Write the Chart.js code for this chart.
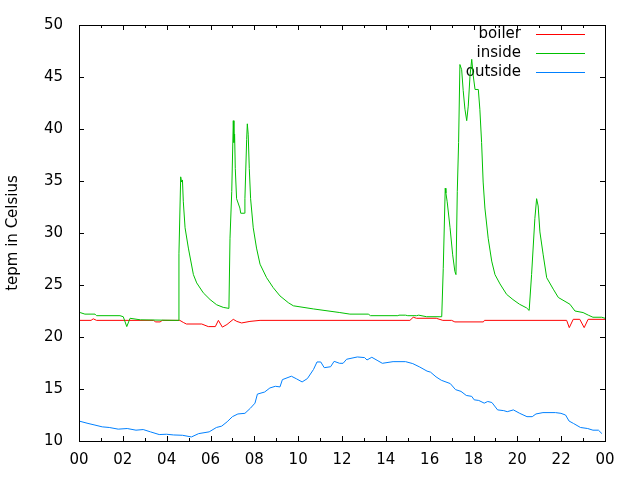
<!DOCTYPE html>
<html lang="en">
<head>
    <meta charset="utf-8">
    <title>Temperatures</title>
    <script src="https://cdn.jsdelivr.net/npm/chart.js"></script>
    <style>
        body { margin: 0; background: #fff; }
    </style>
</head>
<body>
    <canvas id="tempChart" width="640" height="480"></canvas>
    <script>
        // hours of the day (0..24) and temperatures
        const boilerHours = [0, 0.55, 0.65, 0.8, 3.4, 3.5, 3.7, 3.8, 4.6, 4.76, 4.9, 5.6, 5.9, 6.22, 6.36, 6.54, 6.75, 7.04, 7.2, 7.42, 7.8, 8.26,
            15.1, 15.25, 15.4, 16.3, 16.6, 17.0, 17.15, 18.45, 18.5, 22.25, 22.37, 22.55, 22.85, 23.05, 23.23, 24];
        const boilerTemps = [21.6, 21.6, 21.75, 21.6, 21.6, 21.45, 21.45, 21.6, 21.6, 21.4, 21.25, 21.25, 21.0, 21.0, 21.6, 20.95, 21.2, 21.7, 21.5, 21.35, 21.5, 21.6,
            21.6, 21.9, 21.8, 21.8, 21.6, 21.6, 21.45, 21.45, 21.6, 21.6, 20.9, 21.7, 21.7, 20.9, 21.7, 21.7];

        const insideHours = [0, 0.05, 0.27, 0.73, 0.8, 1.87, 2.02, 2.18, 2.33, 2.8, 4.53,
            4.56, 4.64, 4.68, 4.72, 4.76, 4.84, 4.99, 5.22, 5.37, 5.67, 5.98, 6.28, 6.58, 6.84,
            6.89, 6.97, 7.04, 7.07, 7.1, 7.13, 7.19, 7.34, 7.38, 7.54, 7.57, 7.65, 7.68, 7.72, 7.77, 7.83, 7.95,
            8.1, 8.26, 8.56, 8.86, 9.17, 9.55, 9.78, 10.69, 11.9, 12.36, 13.2, 13.3, 14.55, 14.6, 14.9, 15.0, 15.4, 15.5, 15.86, 16.47,
            16.55, 16.62, 16.71, 16.74, 16.8, 16.93, 17.05, 17.15, 17.2, 17.26, 17.32, 17.38, 17.46, 17.53, 17.61, 17.69, 17.76,
            17.84, 17.92, 17.99, 18.07, 18.22, 18.29, 18.37, 18.44, 18.52, 18.67, 18.83, 18.98, 19.21, 19.51, 19.8, 20.1, 20.42, 20.54,
            20.65, 20.8, 20.88, 20.95, 21.03, 21.18, 21.34, 21.64, 21.87, 22.4, 22.63, 23.0, 23.24, 23.45, 23.85, 24];
        const insideTemps = [22.3, 22.35, 22.2, 22.2, 22.05, 22.05, 21.95, 21.0, 21.8, 21.65, 21.6,
            28.0, 35.4, 34.9, 35.1, 33.0, 30.5, 28.55, 26.0, 25.2, 24.25, 23.6, 23.1, 22.85, 22.75,
            29.5, 34.0, 40.8, 38.7, 39.5, 36.2, 33.3, 32.4, 31.9, 31.9, 33.3, 39.0, 40.5, 39.5, 36.2, 33.3, 30.5,
            28.55, 27.0, 25.7, 24.75, 23.95, 23.3, 23.0, 22.7, 22.35, 22.2, 22.2, 22.05, 22.05, 22.1, 22.1, 22.05, 22.05, 22.1, 21.95, 21.95,
            21.95, 26.6, 34.3, 33.85, 33.0, 30.5, 27.9, 26.3, 26.0, 34.0, 38.7, 46.2, 45.7, 43.7, 41.9, 40.8, 42.2,
            45.1, 46.7, 45.1, 43.8, 43.8, 41.9, 38.7, 34.9, 32.4, 29.5, 27.3, 26.0, 25.1, 24.1, 23.6, 23.15, 22.8, 22.55,
            26.0, 31.4, 33.3, 32.6, 30.1, 27.9, 25.7, 24.6, 23.8, 23.15, 22.5, 22.35, 22.1, 21.9, 21.9, 21.8];

        const outsideHours = [0, 0.41, 0.73, 1.06, 1.38, 1.79, 2.2, 2.6, 2.93, 3.26, 3.66, 3.99, 4.32, 4.72, 5.13, 5.46, 5.94,
            6.27, 6.51, 6.76, 7.0, 7.25, 7.57, 7.82, 8.03, 8.14, 8.47, 8.71, 8.96, 9.17, 9.28, 9.69, 9.93, 10.18, 10.42,
            10.7, 10.86, 11.03, 11.19, 11.48, 11.64, 11.89, 12.05, 12.21, 12.7, 13.03, 13.14, 13.36, 13.6, 13.84, 14.33,
            14.9, 15.23, 15.55, 15.88, 16.04, 16.29, 16.53, 16.94, 17.18, 17.43, 17.67, 17.92, 18.03, 18.24, 18.49, 18.65,
            18.84, 19.1, 19.38, 19.54, 19.82, 20.11, 20.44, 20.68, 20.85, 21.17, 21.74, 21.99, 22.2, 22.36, 22.56, 22.88,
            23.21, 23.45, 23.7, 23.86];
        const outsideTemps = [11.92, 11.69, 11.53, 11.36, 11.3, 11.14, 11.2, 11.04, 11.1, 10.88, 10.62, 10.65, 10.58, 10.55, 10.39, 10.71, 10.88,
            11.3, 11.43, 11.85, 12.34, 12.6, 12.66, 13.15, 13.64, 14.51, 14.71, 15.1, 15.26, 15.2, 15.9, 16.23, 15.97, 15.68, 16.0,
            16.88, 17.6, 17.6, 17.05, 17.14, 17.66, 17.47, 17.47, 17.86, 18.08, 18.02, 17.79, 18.05, 17.76, 17.47, 17.63,
            17.63, 17.44, 17.11, 16.72, 16.62, 16.17, 15.84, 15.52, 14.94, 14.77, 14.38, 14.29, 13.96, 13.9, 13.64, 13.8,
            13.7, 12.99, 12.92, 12.82, 12.99, 12.66, 12.34, 12.34, 12.6, 12.73, 12.73, 12.66, 12.5, 11.92, 11.69, 11.3,
            11.2, 11.04, 11.04, 10.71];

        const hourTicks = [0, 2, 4, 6, 8, 10, 12, 14, 16, 18, 20, 22, 24];
        const xTickLabels = ['00', '02', '04', '06', '08', '10', '12', '14', '16', '18', '20', '22', '00'];

        const font = { family: 'DejaVu Sans', size: 15 };

        function toPoints(xs, ys) {
            return xs.map((x, i) => ({ x: x, y: ys[i] }));
        }

        // gnuplot style box with inward ticks on all four sides
        const framePlugin = {
            id: 'frame',
            afterDraw(chart) {
                const ctx = chart.ctx;
                const a = chart.chartArea;
                const xs = chart.scales.x;
                const ys = chart.scales.y;
                ctx.save();
                ctx.strokeStyle = '#000';
                ctx.lineWidth = 1;
                ctx.beginPath();
                ys.ticks.forEach(t => {
                    const py = Math.round(ys.getPixelForValue(t.value)) + 0.5;
                    ctx.moveTo(a.left, py); ctx.lineTo(a.left + 5, py);
                    ctx.moveTo(a.right, py); ctx.lineTo(a.right - 5, py);
                });
                for (let h = 0; h <= 24; h++) {
                    const px = Math.round(xs.getPixelForValue(h)) + 0.5;
                    const len = h % 2 === 0 ? 5 : 3;
                    ctx.moveTo(px, a.bottom); ctx.lineTo(px, a.bottom - len);
                    ctx.moveTo(px, a.top); ctx.lineTo(px, a.top + len);
                }
                ctx.stroke();
                ctx.strokeRect(Math.round(a.left) + 0.5, Math.round(a.top) + 0.5,
                    Math.round(a.right - a.left), Math.round(a.bottom - a.top));
                ctx.restore();
            }
        };

        // key in the top right corner: text right aligned, sample line after it
        const keyPlugin = {
            id: 'key',
            beforeDatasetsDraw(chart) {
                const ctx = chart.ctx;
                ctx.save();
                ctx.font = font.size + 'px ' + font.family;
                ctx.fillStyle = '#000';
                ctx.textAlign = 'right';
                ctx.textBaseline = 'middle';
                chart.data.datasets.forEach((ds, i) => {
                    const y = 34 + i * 19;
                    ctx.fillText(ds.label, 521, y);
                    ctx.strokeStyle = ds.borderColor;
                    ctx.lineWidth = 1;
                    ctx.beginPath();
                    ctx.moveTo(536, y + 0.5);
                    ctx.lineTo(585, y + 0.5);
                    ctx.stroke();
                });
                ctx.restore();
            }
        };

        const ctx = document.getElementById('tempChart').getContext('2d');
        const chart = new Chart(ctx, {
            type: 'line',
            data: {
                datasets: [
                    { label: 'boiler', data: toPoints(boilerHours, boilerTemps), borderColor: '#ff0000', order: 2 },
                    { label: 'inside', data: toPoints(insideHours, insideTemps), borderColor: '#00c000', order: 1 },
                    { label: 'outside', data: toPoints(outsideHours, outsideTemps), borderColor: '#0080ff', order: 0 }
                ]
            },
            options: {
                responsive: false,
                animation: false,
                layout: { padding: { top: 22, right: 35, left: 0, bottom: 0 } },
                elements: {
                    point: { radius: 0 },
                    line: { borderWidth: 1, tension: 0, fill: false }
                },
                plugins: {
                    legend: { display: false },
                    tooltip: { enabled: false }
                },
                scales: {
                    x: {
                        type: 'linear',
                        min: 0,
                        max: 24,
                        afterBuildTicks: scale => { scale.ticks = hourTicks.map(v => ({ value: v })); },
                        afterFit: scale => { scale.height = 39; },
                        ticks: {
                            callback: (v, i) => xTickLabels[i],
                            autoSkip: false,
                            maxRotation: 0,
                            padding: 10,
                            color: '#000',
                            font: font
                        },
                        grid: { display: false, drawTicks: false },
                        border: { display: false }
                    },
                    y: {
                        min: 10,
                        max: 50,
                        afterFit: scale => { scale.width = 79; },
                        ticks: { stepSize: 5, padding: 16, color: '#000', font: font },
                        grid: { display: false, drawTicks: false },
                        border: { display: false },
                        title: {
                            display: true,
                            text: 'tepm in Celsius',
                            color: '#000',
                            font: font,
                            padding: { top: 4, bottom: 0 }
                        }
                    }
                }
            },
            plugins: [framePlugin, keyPlugin]
        });
    </script>
</body>
</html>
